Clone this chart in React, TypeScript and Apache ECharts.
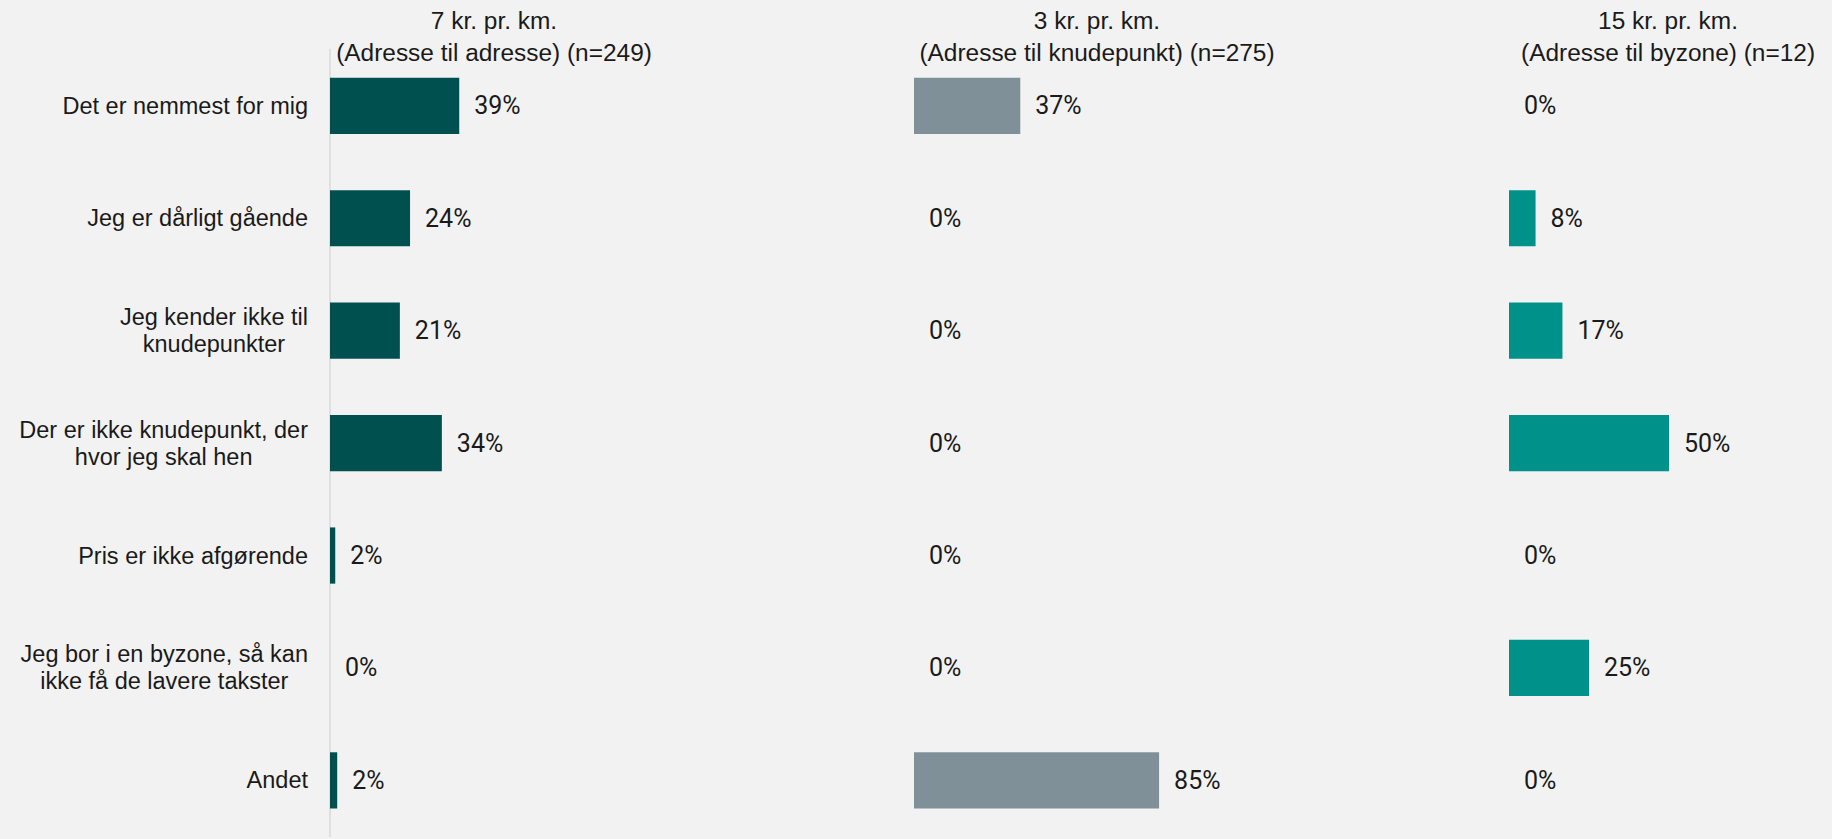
import React, { useEffect, useRef } from "react";
import * as echarts from "echarts";

const categories = [
  "Det er nemmest for mig",
  "Jeg er dårligt gående",
  "Jeg kender ikke til\nknudepunkter",
  "Der er ikke knudepunkt, der\nhvor jeg skal hen",
  "Pris er ikke afgørende",
  "Jeg bor i en byzone, så kan\nikke få de lavere takster",
  "Andet",
];

const values7kr = [39.4, 24.4, 21.3, 34.1, 1.6, 0, 2.2];
const values3kr = [36.9, 0, 0, 0, 0, 0, 85.1];
const values15kr = [0, 8.3, 16.7, 50, 0, 25, 0];

const panelTitles = [
  ["7 kr. pr. km.", "(Adresse til adresse) (n=249)"],
  ["3 kr. pr. km.", "(Adresse til knudepunkt) (n=275)"],
  ["15 kr. pr. km.", "(Adresse til byzone) (n=12)"],
];

const panelColors = ["#00504F", "#7F9098", "#00918A"];

export default function App() {
  const ref = useRef<HTMLDivElement>(null);

  useEffect(() => {
    if (!ref.current) return;
    const chart = echarts.init(ref.current, null, { renderer: "svg" });

    const gridTop = 49.6;
    const gridHeight = 787;
    const grids = [
      { left: 330, top: gridTop, width: 328, height: gridHeight },
      { left: 914, top: gridTop, width: 288, height: gridHeight },
      { left: 1509, top: gridTop, width: 320, height: gridHeight },
    ];
    const titleCenters = [494, 1097, 1668];
    const seriesValues = [values7kr, values3kr, values15kr];

    const valueLabelFont = "'Liberation Sans Narrow', 'Arial Narrow', 'Roboto', sans-serif";
    const catFont = "'Liberation Sans', Arial, sans-serif";

    const graphic: any[] = [];
    panelTitles.forEach((lines, i) => {
      lines.forEach((t, j) => {
        graphic.push({
          type: "text",
          x: titleCenters[i],
          y: j === 0 ? 21 : 53,
          scaleX: 1.04,
          style: {
            text: t,
            fontSize: 23.5,
            fontFamily: catFont,
            fill: "#1a1a1a",
            align: "center",
            verticalAlign: "middle",
          },
        });
      });
    });

    const option: any = {
      animation: false,
      backgroundColor: "#F2F2F2",
      grid: grids,
      xAxis: grids.map((_, i) => ({
        type: "value",
        gridIndex: i,
        min: 0,
        max: 100,
        show: false,
      })),
      yAxis: grids.map((_, i) => ({
        type: "category",
        gridIndex: i,
        data: categories,
        inverse: true,
        axisTick: { show: false },
        axisLine: {
          show: i === 0,
          lineStyle: { color: "#d9d9d9", width: 1.5 },
        },
        splitLine: { show: false },
        axisLabel: {
          show: i === 0,
          margin: 22,
          align: "right",
          formatter: (v: string) =>
            v
              .split("\n")
              .map((l) => `{c|${l}}`)
              .join("\n"),
          rich: {
            c: {
              align: "center",
              fontSize: 23.5,
              lineHeight: 27,
              fontFamily: catFont,
              color: "#1a1a1a",
            },
          },
        },
      })),
      series: seriesValues.map((vals, i) => ({
        type: "bar",
        xAxisIndex: i,
        yAxisIndex: i,
        data: vals,
        barWidth: "50%",
        itemStyle: { color: panelColors[i] },
        label: {
          show: true,
          position: "right",
          distance: 15,
          formatter: (p: any) => `${Math.round(p.value)}%`,
          fontSize: 25,
          fontFamily: valueLabelFont,
          color: "#1a1a1a",
        },
      })),
      graphic,
    };

    chart.setOption(option);
    return () => chart.dispose();
  }, []);

  return (
    <div
      ref={ref}
      style={{ position: "fixed", left: 0, top: 0, width: 1832, height: 839 }}
    />
  );
}
